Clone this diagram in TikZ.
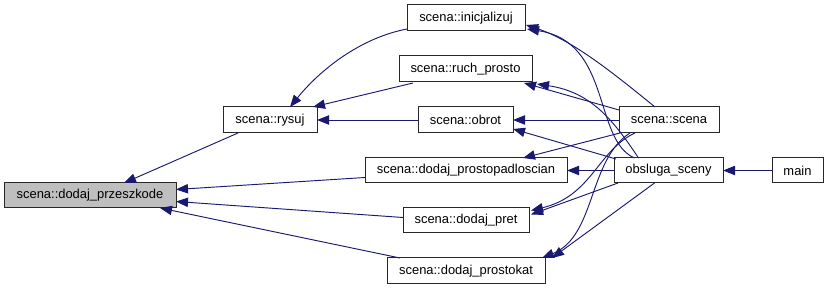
\documentclass[tikz,border=0pt]{standalone}
\usepackage{fontspec}
\setmainfont{Liberation Sans}
\usetikzlibrary{arrows.meta,calc}
\definecolor{edgeblue}{RGB}{25,25,112}
\definecolor{boxgray}{RGB}{191,191,191}
\definecolor{boxline}{RGB}{40,40,40}
\begin{document}
\begin{tikzpicture}[x=0.75pt,y=-0.75pt,
  fnbox/.style={draw=boxline, line width=0.75pt, fill=white, inner sep=0pt,
    outer sep=0pt, minimum height=19.5pt, font=\fontsize{9.7}{11}\selectfont},
  callarrow/.style={draw=edgeblue, line width=0.7pt,
    -{Triangle[length=9pt,width=7pt]}}]
\useasboundingbox[fill=white] (0,0) rectangle (828,291);

% function boxes
\node[fnbox, fill=boxgray, minimum width=129pt, minimum height=18.75pt] (przeszkode) at (90,195.5) {scena::dodaj\_przeszkode};
\node[fnbox, minimum width=70.5pt]  (rysuj)   at (270,120)   {scena::rysuj};
\node[fnbox, minimum width=88.5pt]  (ini)     at (466,18)    {scena::inicjalizuj};
\node[fnbox, minimum width=99.75pt] (ruch)    at (465.5,69)  {scena::ruch\_prosto};
\node[fnbox, minimum width=71.25pt] (obrot)   at (465.5,120) {scena::obrot};
\node[fnbox, minimum width=151.5pt, minimum height=18.75pt] (prostopad) at (466,170.5) {scena::dodaj\_prostopadloscian};
\node[fnbox, minimum width=94.5pt, minimum height=18.75pt]  (pret)      at (466,220.5) {scena::dodaj\_pret};
\node[fnbox, minimum width=118.5pt] (prostokat) at (466,271) {scena::dodaj\_prostokat};
\node[fnbox, minimum width=75pt]    (scena)   at (669,120)   {scena::scena};
\node[fnbox, minimum width=81.75pt, minimum height=18.75pt] (obsluga) at (668.5,170.5) {obsluga\_sceny};
\node[fnbox, minimum width=38.25pt, minimum height=18.75pt] (main)    at (797.5,170.5) {main};

% callers of dodaj_przeszkode
\draw[callarrow] ($(rysuj.south west)+(15,0)$) -- ($(przeszkode.north east)+(-52,0)$);
\draw[callarrow] ($(prostopad.west)+(0,7)$) -- ($(przeszkode.east)+(0,-6)$);
\draw[callarrow] ($(pret.west)+(0,-3)$) -- ($(przeszkode.east)+(0,6)$);
\draw[callarrow] ($(prostokat.north west)+(13,0)$) -- ($(przeszkode.south east)+(-16,0)$);

% callers of rysuj
\draw[callarrow] ($(ini.west)+(0,11)$) .. controls (360,38) and (320,70) .. ($(rysuj.north)+(20,0)$);
\draw[callarrow] ($(ruch.south west)+(14,1)$) -- ($(rysuj.north east)+(-4,0)$);
\draw[callarrow] (obrot.west) -- (rysuj.east);

% calls made from scena::scena
\draw[callarrow] ($(scena.north)+(-14,0)$) .. controls (612,72) and (572,40) .. ($(ini.east)+(1,7)$);
\draw[callarrow] ($(scena.north west)+(0,3)$) -- ($(ruch.south east)+(-8,1)$);
\draw[callarrow] (scena.west) -- (obrot.east);
\draw[callarrow] ($(scena.south west)+(1,0)$) -- ($(prostopad.north east)+(-44,0)$);
\draw[callarrow] ($(scena.south)+(-34,0)$) .. controls (598,150) and (592,196) .. ($(pret.east)+(2,-10)$);
\draw[callarrow] ($(scena.south)+(-39,0)$) .. controls (588,160) and (596,236) .. ($(prostokat.north east)+(-3,0)$);

% calls made from obsluga_sceny
\draw[callarrow] ($(obsluga.north)+(-34,0)$) .. controls (593,140) and (612,42) .. ($(ini.east)+(2,11)$);
\draw[callarrow] ($(obsluga.north)+(-30,0)$) .. controls (612,118) and (590,92) .. ($(ruch.south east)+(5,2)$);
\draw[callarrow] ($(obsluga.north west)+(2,1)$) -- ($(obrot.east)+(0,9)$);
\draw[callarrow] (obsluga.west) -- (prostopad.east);
\draw[callarrow] ($(obsluga.south west)+(4,0)$) -- ($(pret.east)+(2,-6)$);
\draw[callarrow] ($(obsluga.south)+(-14,0)$) -- ($(prostokat.north east)+(7,0)$);

% caller of obsluga_sceny
\draw[callarrow] (main.west) -- (obsluga.east);
\end{tikzpicture}
\end{document}
